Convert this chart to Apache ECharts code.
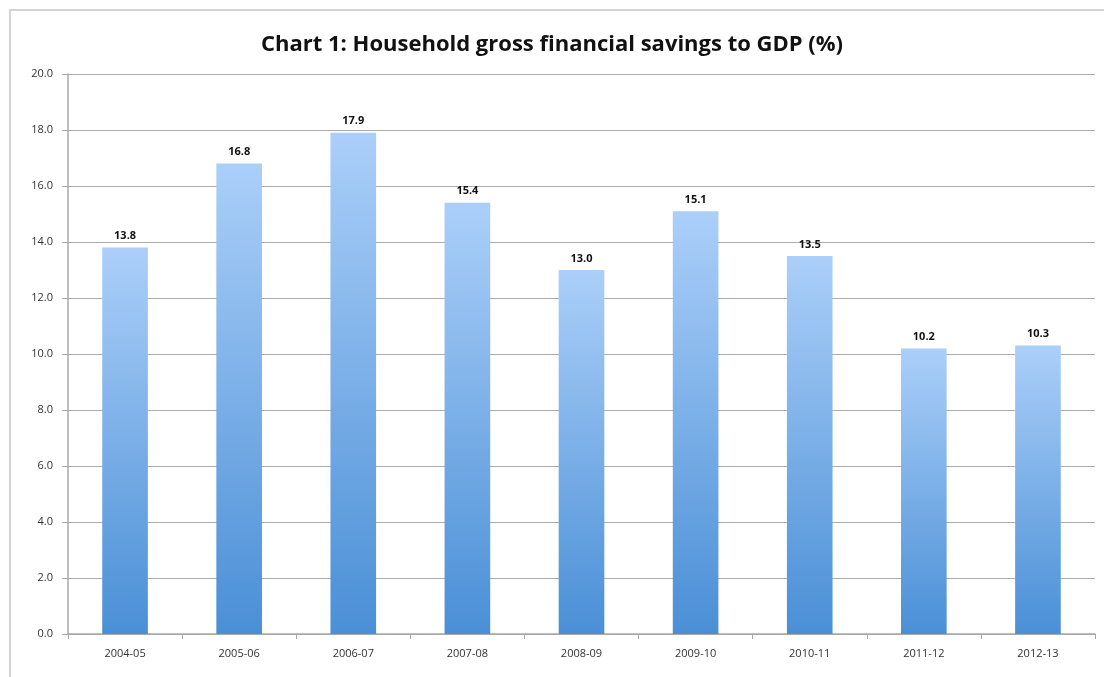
<!DOCTYPE html>
<html>
<head>
<meta charset="utf-8">
<script src="https://cdn.jsdelivr.net/npm/echarts@6/dist/echarts.min.js"></script>
<style>
html,body{margin:0;padding:0;background:#fff;}
#frame{position:absolute;left:9px;top:9px;width:1110px;height:700px;border:2px solid #d4d4d4;box-sizing:border-box;}
#chart{position:absolute;left:0;top:0;width:1104px;height:677px;}
</style>
</head>
<body>
<div id="frame"></div>
<div id="chart"></div>
<script>
const titleText = 'Chart 1: Household gross financial savings to GDP (%)';
const categories = ['2004-05','2005-06','2006-07','2007-08','2008-09','2009-10','2010-11','2011-12','2012-13'];
const savings = [13.8, 16.8, 17.9, 15.4, 13.0, 15.1, 13.5, 10.2, 10.3];

const chart = echarts.init(document.getElementById('chart'), null, {renderer:'canvas'});
chart.setOption({
  animation:false,
  backgroundColor:'transparent',
  title:{
    text:titleText, left:'center', top:29,
    textStyle:{fontFamily:'Open Sans', fontWeight:'bold', fontSize:22, color:'#111'}
  },
  grid:{left:68, right:9, top:74, bottom:43, containLabel:false},
  xAxis:{
    type:'category', data:categories,
    axisLine:{lineStyle:{color:'#a8a8a8', width:1.5}},
    axisTick:{show:true, length:5, lineStyle:{color:'#a8a8a8'}},
    axisLabel:{fontFamily:'Open Sans', fontSize:11, color:'#333', margin:14}
  },
  yAxis:{
    type:'value', min:0, max:20, interval:2,
    axisLine:{show:true, lineStyle:{color:'#a8a8a8', width:1.5}},
    axisTick:{show:true, length:6, lineStyle:{color:'#a8a8a8'}},
    axisLabel:{fontFamily:'Open Sans', fontSize:11, color:'#333', margin:15, formatter:v=>v.toFixed(1)},
    splitLine:{show:true, lineStyle:{color:'#acacac', width:1.2}}
  },
  series:[{
    type:'bar', data:savings, barWidth:'40%',
    itemStyle:{color:new echarts.graphic.LinearGradient(0,0,0,1,[
      {offset:0,color:'#abcff9'},{offset:1,color:'#4a8fd6'}
    ], false)},
    label:{show:true, position:'top', distance:6, fontFamily:'Open Sans', fontWeight:'bold', fontSize:11, color:'#111', formatter:p=>p.value.toFixed(1)}
  }]
});
</script>
</body>
</html>
